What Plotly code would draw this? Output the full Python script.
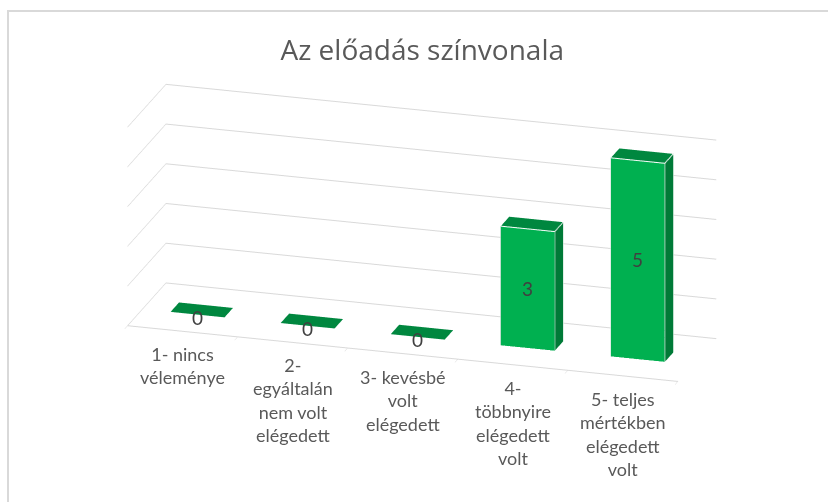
import plotly.graph_objects as go

categories = [
    "1- nincs<br>véleménye",
    "2-<br>egyáltalán<br>nem volt<br>elégedett",
    "3- kevésbé<br>volt<br>elégedett",
    "4-<br>többnyire<br>elégedett<br>volt",
    "5- teljes<br>mértékben<br>elégedett<br>volt",
]
values = [0, 0, 0, 3, 5]
value_ticks = [0, 1, 2, 3, 4, 5]
title_text = "Az előadás színvonala"

FRONT = "#00B050"
SIDE = "#007A37"
TOP = "#00873F"
GRID = "#D9D9D9"
TEXT = "#595959"

HALF_W = 0.245
Y0, Y1 = 0.39, 0.61

fig = go.Figure()

for i, v in enumerate(values):
    x0, x1 = i - HALF_W, i + HALF_W
    z0, z1 = 0, v
    xs = [x0, x1, x1, x0, x0, x1, x1, x0]
    ys = [Y0, Y0, Y1, Y1, Y0, Y0, Y1, Y1]
    zs = [z0, z0, z0, z0, z1, z1, z1, z1]
    # faces: front, back, left, right, top, bottom
    I = [0, 0, 3, 3, 0, 0, 1, 1, 4, 4, 0, 0]
    J = [1, 5, 2, 6, 3, 7, 2, 6, 5, 6, 1, 2]
    K = [5, 4, 6, 7, 7, 4, 6, 5, 6, 7, 2, 3]
    if v == 0:
        cols = [TOP] * 12
    else:
        cols = [FRONT, FRONT, SIDE, SIDE, SIDE, SIDE, SIDE, SIDE, TOP, TOP, SIDE, SIDE]
    fig.add_trace(go.Mesh3d(
        x=xs, y=ys, z=zs, i=I, j=J, k=K, facecolor=cols, flatshading=True,
        lighting=dict(ambient=1, diffuse=0, specular=0, roughness=1, fresnel=0),
        hoverinfo="skip", showscale=False,
    ))
    if v > 0:
        fig.add_trace(go.Scatter3d(
            x=[x0, x1, x1, x0, x0, None, x1, x1, None, x1, x1],
            y=[Y0, Y0, Y0, Y0, Y0, None, Y0, Y1, None, Y1, Y1],
            z=[z0, z0, z1, z1, z0, None, z1, z1, None, z1, z0],
            mode="lines", line=dict(color="white", width=2),
            hoverinfo="skip", showlegend=False,
        ))

annotations = []
for i, (c, v) in enumerate(zip(categories, values)):
    annotations.append(dict(
        x=i, y=0, z=0, text=c, showarrow=False, yanchor="top", yshift=-10,
        font=dict(family="Lato", size=18, color=TEXT),
    ))
    annotations.append(dict(
        x=i, y=Y0, z=v / 2, text=str(v), showarrow=False,
        yshift=-3 if v == 0 else 0,
        font=dict(family="Lato", size=19, color="#404040"),
    ))

axis_common = dict(showbackground=False, showspikes=False, zeroline=False, title=dict(text=""))

fig.update_layout(
    width=828, height=502,
    margin=dict(l=0, r=0, t=0, b=0),
    paper_bgcolor="white",
    showlegend=False,
    title=dict(text=title_text, x=0.51, xanchor="center", y=0.9, yanchor="middle",
               font=dict(family="Open Sans", size=28, color=TEXT)),
    scene=dict(
        domain=dict(x=[0, 1], y=[0, 1]),
        xaxis=dict(axis_common, range=[-0.5, 4.5], showgrid=False, showline=True, linecolor=GRID,
                   linewidth=2, ticks="outside", tickvals=[k - 0.5 for k in range(6)], ticklen=6,
                   tickcolor=GRID, showticklabels=False),
        yaxis=dict(axis_common, range=[0, 1], showgrid=False, showline=False, ticks="",
                   showticklabels=False),
        zaxis=dict(axis_common, range=[0, 5], tickvals=value_ticks, showgrid=True, gridcolor=GRID,
                   gridwidth=2, showline=False, ticks="", showticklabels=False),
        aspectmode="manual",
        aspectratio=dict(x=2.29, y=0.53, z=0.84),
        camera=dict(eye=dict(x=0.99, y=-3.396, z=1.185), center=dict(x=-0.033, y=0, z=-0.08),
                    projection=dict(type="orthographic")),
        annotations=annotations,
        bgcolor="white",
    ),
    shapes=[dict(type="rect", xref="paper", yref="paper", x0=8 / 828, x1=1.02,
                 y0=-0.02, y1=1 - 11 / 502, line=dict(color=GRID, width=2),
                 fillcolor="rgba(0,0,0,0)")],
)

fig.write_html("out.html", config=dict(displayModeBar=False),
               post_script="document.body.style.margin='0px';")
